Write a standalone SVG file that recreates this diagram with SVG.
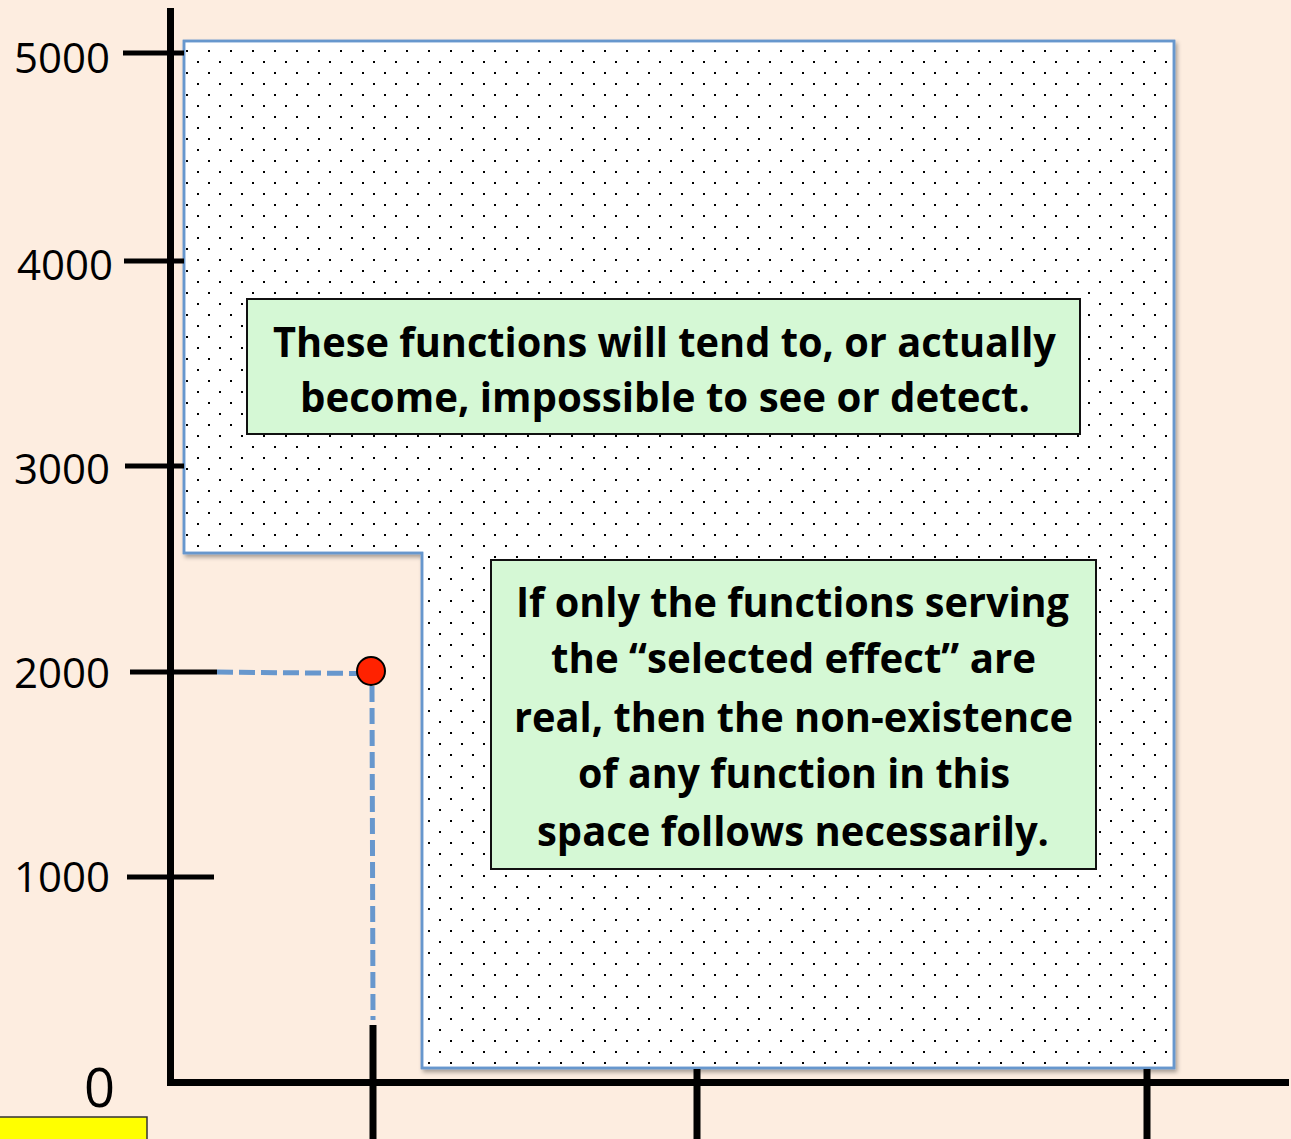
<svg xmlns="http://www.w3.org/2000/svg" width="1291" height="1139" viewBox="0 0 1291 1139">
<defs>
<pattern id="dots" patternUnits="userSpaceOnUse" x="10" y="6" width="22" height="22">
<rect x="0" y="0" width="2" height="2" fill="#000"/>
<rect x="11" y="11" width="2" height="2" fill="#000"/>
</pattern>
<filter id="shadow" x="-5%" y="-5%" width="110%" height="110%">
<feDropShadow dx="2" dy="3" stdDeviation="2" flood-color="#000" flood-opacity="0.35"/>
</filter>
<style>
.axis{stroke:#000;stroke-width:7;fill:none}
.tick{stroke:#000;stroke-width:5;fill:none}
.lbl{font-family:"Open Sans","Noto Sans",sans-serif;font-size:42px;fill:#000}
.box{fill:#D5F8D5;stroke:#111;stroke-width:2}
.bt{font-family:"Open Sans","Noto Sans",sans-serif;font-size:41px;font-weight:700;fill:#000;text-anchor:middle}
.dash{stroke:#6797CD;stroke-width:5;stroke-dasharray:16 6;fill:none}
</style>
</defs>
<rect width="1291" height="1139" fill="#FDEDE0"/>
<g id="region">
<path d="M184,41 H1174 V1068 H422 V553 H184 Z" fill="#fff" stroke="#6797CD" stroke-width="2.5" filter="url(#shadow)"/>
<path d="M184,41 H1174 V1068 H422 V553 H184 Z" fill="url(#dots)"/>
<path d="M184,41 H1174 V1068 H422 V553 H184 Z" fill="none" stroke="#6797CD" stroke-width="2.5"/>
</g>
<g id="axes">
<line class="axis" x1="170.5" y1="8" x2="170.5" y2="1086"/>
<line class="axis" x1="167" y1="1082.5" x2="1289" y2="1082.5"/>
<line class="tick" x1="123" y1="53" x2="184" y2="53"/>
<line class="tick" x1="124" y1="261" x2="184" y2="261"/>
<line class="tick" x1="125" y1="466" x2="184" y2="466"/>
<line class="tick" x1="130" y1="672" x2="217" y2="672"/>
<line class="tick" x1="127" y1="877" x2="214" y2="877"/>
<line class="axis" x1="373" y1="1025" x2="373" y2="1139"/>
<line class="axis" x1="697" y1="1069" x2="697" y2="1139"/>
<line class="axis" x1="1147" y1="1069" x2="1147" y2="1139"/>
<text class="lbl" x="14" y="73" textLength="96" lengthAdjust="spacingAndGlyphs">5000</text>
<text class="lbl" x="17" y="280" textLength="96" lengthAdjust="spacingAndGlyphs">4000</text>
<text class="lbl" x="14" y="484" textLength="96" lengthAdjust="spacingAndGlyphs">3000</text>
<text class="lbl" x="14" y="688" textLength="96" lengthAdjust="spacingAndGlyphs">2000</text>
<text class="lbl" x="14" y="892" textLength="96" lengthAdjust="spacingAndGlyphs">1000</text>
<text class="lbl" x="84" y="1107" style="font-size:54px" textLength="31" lengthAdjust="spacingAndGlyphs">0</text>
</g>
<g id="yellow">
<rect x="-2" y="1117" width="149" height="30" fill="#FFFF00" stroke="#333" stroke-width="1.5"/>
</g>
<g id="connectors">
<path class="dash" d="M217,672 L358,673.5"/>
<path class="dash" d="M372,686 L373,1020"/>
</g>
<g id="point">
<circle cx="371" cy="671" r="14" fill="#FF2200" stroke="#000" stroke-width="2"/>
</g>
<g id="box1">
<rect class="box" x="247" y="299" width="833" height="135"/>
<text class="bt" x="664.5" y="357" textLength="783" lengthAdjust="spacingAndGlyphs">These functions will tend to, or actually</text>
<text class="bt" x="665" y="412" textLength="730" lengthAdjust="spacingAndGlyphs">become, impossible to see or detect.</text>
</g>
<g id="box2">
<rect class="box" x="491" y="560" width="605" height="309"/>
<text class="bt" x="792.5" y="617" textLength="553" lengthAdjust="spacingAndGlyphs">If only the functions serving</text>
<text class="bt" x="793.5" y="673" textLength="485" lengthAdjust="spacingAndGlyphs">the “selected effect” are</text>
<text class="bt" x="793.5" y="732" textLength="559" lengthAdjust="spacingAndGlyphs">real, then the non-existence</text>
<text class="bt" x="794" y="788" textLength="432" lengthAdjust="spacingAndGlyphs">of any function in this</text>
<text class="bt" x="793" y="846" textLength="512" lengthAdjust="spacingAndGlyphs">space follows necessarily.</text>
</g>
</svg>
